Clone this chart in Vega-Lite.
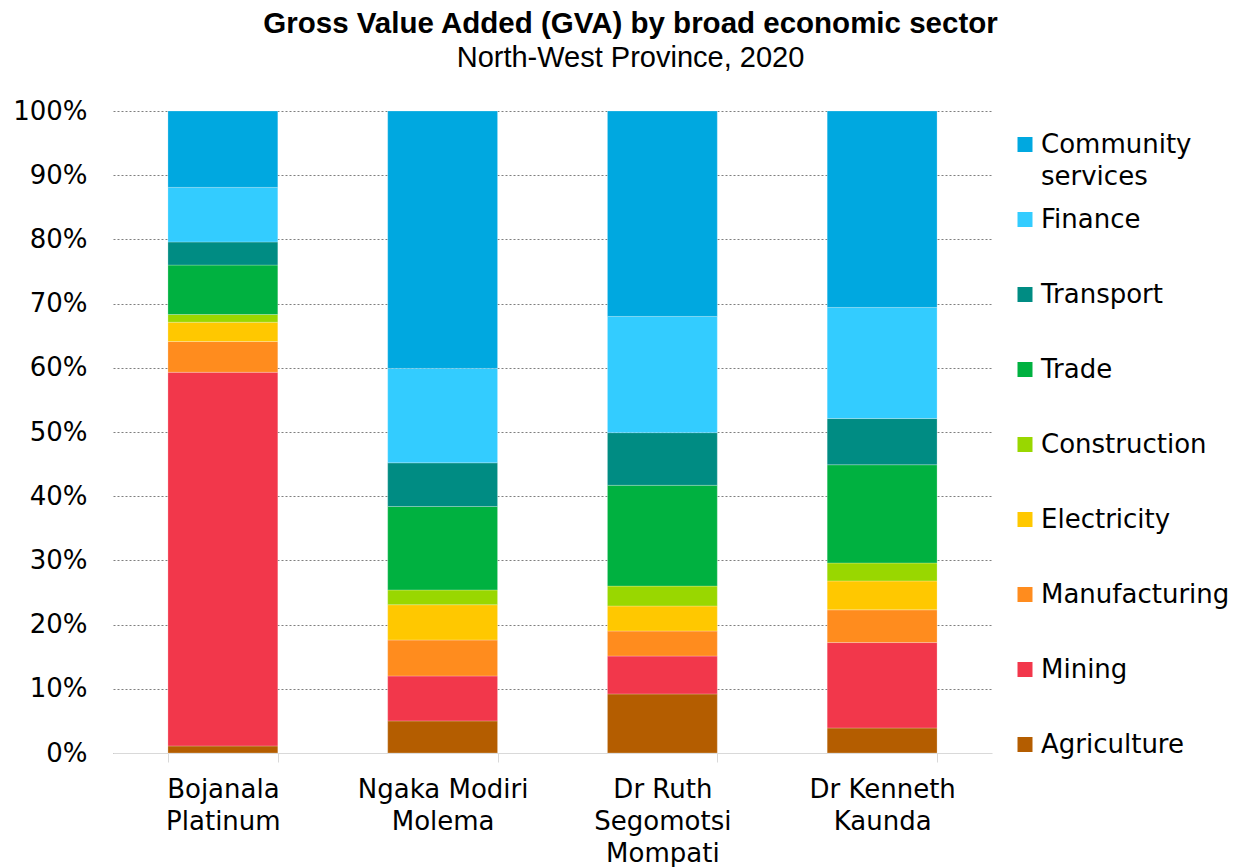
{
  "$schema": "https://vega.github.io/schema/vega-lite/v6.json",
  "autosize": {"type": "none"},
  "padding": {"left": 113, "top": 111, "right": 245, "bottom": 114},
  "width": 879,
  "height": 642,
  "background": "white",
  "title": {
    "text": "Gross Value Added (GVA) by broad economic sector",
    "subtitle": "North-West Province, 2020",
    "anchor": "middle",
    "dx": 78,
    "offset": 24,
    "font": "Liberation Sans",
    "fontSize": 29.5,
    "fontWeight": "bold",
    "color": "#000000",
    "subtitleFont": "Liberation Sans",
    "subtitleFontSize": 29,
    "subtitleColor": "#000000",
    "subtitlePadding": 5
  },
  "data": {
    "values": [
      {"district": "Bojanala Platinum", "sector": "Agriculture", "share": 1.1},
      {"district": "Bojanala Platinum", "sector": "Mining", "share": 58.2},
      {"district": "Bojanala Platinum", "sector": "Manufacturing", "share": 4.8},
      {"district": "Bojanala Platinum", "sector": "Electricity", "share": 3.0},
      {"district": "Bojanala Platinum", "sector": "Construction", "share": 1.2},
      {"district": "Bojanala Platinum", "sector": "Trade", "share": 7.7},
      {"district": "Bojanala Platinum", "sector": "Transport", "share": 3.6},
      {"district": "Bojanala Platinum", "sector": "Finance", "share": 8.5},
      {"district": "Bojanala Platinum", "sector": "Community services", "share": 11.9},
      {"district": "Ngaka Modiri Molema", "sector": "Agriculture", "share": 5.0},
      {"district": "Ngaka Modiri Molema", "sector": "Mining", "share": 7.0},
      {"district": "Ngaka Modiri Molema", "sector": "Manufacturing", "share": 5.6},
      {"district": "Ngaka Modiri Molema", "sector": "Electricity", "share": 5.5},
      {"district": "Ngaka Modiri Molema", "sector": "Construction", "share": 2.3},
      {"district": "Ngaka Modiri Molema", "sector": "Trade", "share": 13.0},
      {"district": "Ngaka Modiri Molema", "sector": "Transport", "share": 6.8},
      {"district": "Ngaka Modiri Molema", "sector": "Finance", "share": 14.7},
      {"district": "Ngaka Modiri Molema", "sector": "Community services", "share": 40.1},
      {"district": "Dr Ruth Segomotsi Mompati", "sector": "Agriculture", "share": 9.2},
      {"district": "Dr Ruth Segomotsi Mompati", "sector": "Mining", "share": 5.9},
      {"district": "Dr Ruth Segomotsi Mompati", "sector": "Manufacturing", "share": 3.9},
      {"district": "Dr Ruth Segomotsi Mompati", "sector": "Electricity", "share": 3.9},
      {"district": "Dr Ruth Segomotsi Mompati", "sector": "Construction", "share": 3.1},
      {"district": "Dr Ruth Segomotsi Mompati", "sector": "Trade", "share": 15.7},
      {"district": "Dr Ruth Segomotsi Mompati", "sector": "Transport", "share": 8.2},
      {"district": "Dr Ruth Segomotsi Mompati", "sector": "Finance", "share": 18.1},
      {"district": "Dr Ruth Segomotsi Mompati", "sector": "Community services", "share": 32.0},
      {"district": "Dr Kenneth Kaunda", "sector": "Agriculture", "share": 3.9},
      {"district": "Dr Kenneth Kaunda", "sector": "Mining", "share": 13.3},
      {"district": "Dr Kenneth Kaunda", "sector": "Manufacturing", "share": 5.1},
      {"district": "Dr Kenneth Kaunda", "sector": "Electricity", "share": 4.5},
      {"district": "Dr Kenneth Kaunda", "sector": "Construction", "share": 2.8},
      {"district": "Dr Kenneth Kaunda", "sector": "Trade", "share": 15.3},
      {"district": "Dr Kenneth Kaunda", "sector": "Transport", "share": 7.2},
      {"district": "Dr Kenneth Kaunda", "sector": "Finance", "share": 17.3},
      {"district": "Dr Kenneth Kaunda", "sector": "Community services", "share": 30.6}
    ]
  },
  "transform": [
    {"calculate": "indexof(['Community services','Finance','Transport','Trade','Construction','Electricity','Manufacturing','Mining','Agriculture'], datum.sector)", "as": "k"}
  ],
  "mark": {"type": "bar", "stroke": "white", "strokeWidth": 0.4, "strokeOpacity": 0.6},
  "encoding": {
    "x": {
      "field": "district",
      "type": "nominal",
      "sort": ["Bojanala Platinum", "Ngaka Modiri Molema", "Dr Ruth Segomotsi Mompati", "Dr Kenneth Kaunda"],
      "scale": {"paddingInner": 0.5, "paddingOuter": 0.25},
      "axis": {
        "title": null,
        "labelAngle": 0,
        "labelFont": "DejaVu Sans",
        "labelFontSize": 26,
        "labelColor": "#000000",
        "labelLineHeight": 32,
        "labelPadding": 14,
        "labelBaseline": "top",
        "labelExpr": "datum.label == 'Bojanala Platinum' ? ['Bojanala', 'Platinum'] : datum.label == 'Ngaka Modiri Molema' ? ['Ngaka Modiri', 'Molema'] : datum.label == 'Dr Ruth Segomotsi Mompati' ? ['Dr Ruth', 'Segomotsi', 'Mompati'] : datum.label == 'Dr Kenneth Kaunda' ? ['Dr Kenneth', 'Kaunda'] : ''",
        "domainColor": "#d9d9d9",
        "domainWidth": 1,
        "tickBand": "extent",
        "tickColor": "#d9d9d9",
        "tickSize": 9,
        "grid": false
      }
    },
    "y": {
      "field": "share",
      "type": "quantitative",
      "stack": "normalize",
      "scale": {"domain": [0, 1], "nice": false},
      "axis": {
        "title": null,
        "format": ".0%",
        "values": [0, 0.1, 0.2, 0.3, 0.4, 0.5, 0.6, 0.7, 0.8, 0.9, 1],
        "labelFont": "DejaVu Sans",
        "labelFontSize": 26,
        "labelColor": "#000000",
        "labelPadding": 26,
        "ticks": false,
        "domain": false,
        "grid": true,
        "gridColor": "#7f7f7f",
        "gridDash": [2, 2],
        "gridWidth": 1
      }
    },
    "color": {
      "field": "sector",
      "type": "nominal",
      "sort": ["Community services", "Finance", "Transport", "Trade", "Construction", "Electricity", "Manufacturing", "Mining", "Agriculture"],
      "scale": {
        "domain": ["Community services", "Finance", "Transport", "Trade", "Construction", "Electricity", "Manufacturing", "Mining", "Agriculture"],
        "range": ["#00A8E0", "#33CCFF", "#008C83", "#00B140", "#99D700", "#FFC800", "#FF8C1E", "#F2374B", "#B45D00"]
      },
      "legend": {
        "title": null,
        "orient": "none",
        "legendX": 899,
        "legendY": 20.5,
        "symbolType": "square",
        "symbolSize": 225,
        "symbolStrokeWidth": 0,
        "labelFont": "DejaVu Sans",
        "labelFontSize": 26,
        "labelColor": "#000000",
        "labelOffset": 3,
        "labelLimit": 300,
        "gridAlign": "all",
        "columns": 1,
        "rowPadding": 17,
        "labelExpr": "datum.label == 'Community services' ? ['Community', 'services'] : datum.label"
      }
    },
    "order": {"field": "k", "type": "quantitative", "sort": "descending"}
  },
  "config": {
    "view": {"stroke": null},
    "style": {"guide-label": {"lineHeight": 32}}
  }
}
